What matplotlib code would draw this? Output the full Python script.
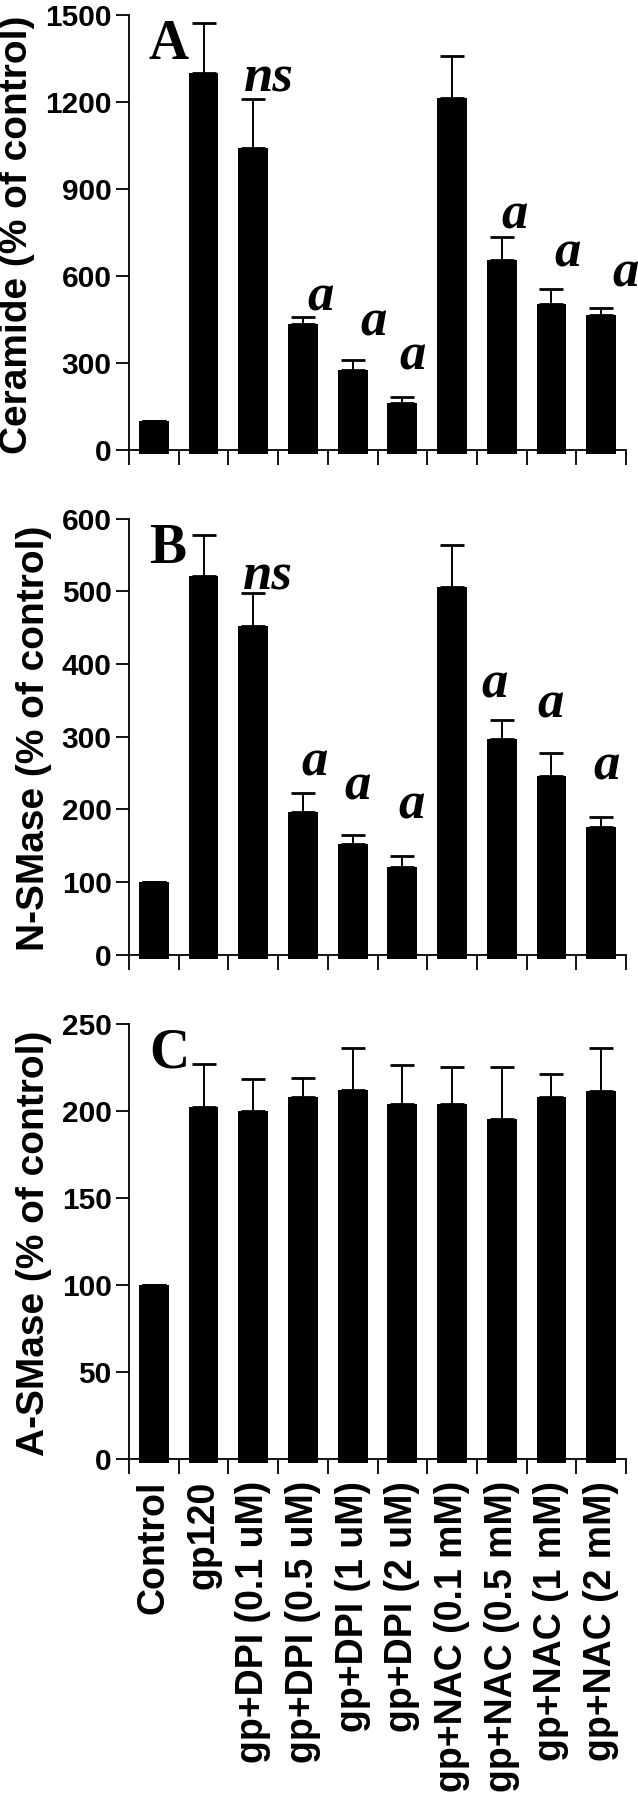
import matplotlib
matplotlib.use("Agg")
import matplotlib.pyplot as plt
import numpy as np

# categories (same for all three panels)
groups = ["Control", "gp120", "gp+DPI (0.1 uM)", "gp+DPI (0.5 uM)", "gp+DPI (1 uM)",
          "gp+DPI (2 uM)", "gp+NAC (0.1 mM)", "gp+NAC (0.5 mM)", "gp+NAC (1 mM)", "gp+NAC (2 mM)"]

# panel A - ceramide
ceramide = [100, 1300, 1043, 436, 275, 164, 1214, 654, 505, 464]
ceramide_err = [0, 173, 168, 23, 34, 20, 145, 79, 50, 26]

# panel B - N-SMase
nsmase = [100, 521, 452, 196, 152, 121, 506, 297, 246, 176]
nsmase_err = [0, 56, 46, 26, 12, 15, 58, 26, 31, 14]

# panel C - A-SMase
asmase = [100, 202, 200, 208, 212, 204, 204, 195, 208, 211]
asmase_err = [0, 25, 18, 11, 24, 22, 21, 30, 13, 25]

# significance marks: text, x (category units), y (data units)
ceramide_marks = ["ns", "a", "a", "a", "a", "a", "a"]
ceramide_mark_x = [2.32, 3.35, 4.42, 5.2, 7.25, 8.33, 9.5]
ceramide_mark_y = [1236, 480, 394, 277, 764, 634, 565]

nsmase_marks = ["ns", "a", "a", "a", "a", "a", "a"]
nsmase_mark_x = [2.29, 3.23, 4.1, 5.18, 6.86, 7.99, 9.11]
nsmase_mark_y = [503, 246, 213, 187, 354, 327, 241]

SANS = "Liberation Sans"
SERIF = "Liberation Serif"

W, H = 638, 1800
fig = plt.figure(figsize=(W / 100, H / 100), dpi=100)

x = np.arange(len(groups))


def make_panel(top_px, bottom_px, vals, errs, ymax, ystep, ylabel, letter,
               marks=None, mark_x=None, mark_y=None, show_labels=False):
    left_px, right_px = 129, 626
    ax = fig.add_axes([left_px / W, 1 - bottom_px / H,
                       (right_px - left_px) / W, (bottom_px - top_px) / H])
    pad = 0.009 * ymax
    ax.bar(x, np.array(vals) + pad, bottom=-pad, width=0.6, color="black", zorder=2)
    ax.errorbar(x, vals, yerr=[np.zeros(len(errs)), errs], fmt="none", ecolor="black",
                elinewidth=1.4, capsize=8.5, capthick=2.0, zorder=1)
    ax.set_xlim(-0.5, 9.5)
    ax.set_ylim(-pad, ymax)
    for s in ["top", "right"]:
        ax.spines[s].set_visible(False)
    ax.spines["bottom"].set_position(("data", 0))
    ax.spines["left"].set_bounds(0, ymax)
    for s in ["left", "bottom"]:
        ax.spines[s].set_linewidth(1.3)

    ax.set_yticks(np.arange(0, ymax + 1, ystep))
    ax.tick_params(axis="y", direction="out", length=9.5, width=1.3, pad=3,
                   labelsize=21.5)
    for t in ax.get_yticklabels():
        t.set_fontfamily(SANS)
        t.set_fontweight("bold")

    # tick marks between bars, labels under bars
    ax.set_xticks(np.arange(-0.5, 10, 1), minor=True)
    ax.tick_params(axis="x", which="minor", direction="out", length=11, width=1.3)
    ax.set_xticks(x)
    ax.tick_params(axis="x", which="major", length=0, pad=16)
    if show_labels:
        ax.set_xticklabels(groups, rotation=90, fontsize=27, fontweight="bold",
                           family=SANS, va="top")
    else:
        ax.set_xticklabels([])

    ax.set_ylabel(ylabel, fontsize=28, fontweight="bold", family=SANS, labelpad=7)

    ax.text(0.04, 0.99, letter, transform=ax.transAxes, fontsize=40,
            fontweight="bold", family=SERIF, ha="left", va="top")

    if marks:
        for m, mx, my in zip(marks, mark_x, mark_y):
            ax.text(mx, my, m, fontsize=38, fontweight="bold", style="italic",
                    family=SERIF, ha="center", va="baseline")
    return ax


make_panel(15, 454, ceramide, ceramide_err, 1500, 300, "Ceramide (% of control)", "A",
           ceramide_marks, ceramide_mark_x, ceramide_mark_y)
make_panel(518.6, 958.6, nsmase, nsmase_err, 600, 100, "N-SMase (% of control)", "B",
           nsmase_marks, nsmase_mark_x, nsmase_mark_y)
make_panel(1023.6, 1462.5, asmase, asmase_err, 250, 50, "A-SMase (% of control)", "C",
           show_labels=True)

fig.savefig("out.png", dpi=100)
